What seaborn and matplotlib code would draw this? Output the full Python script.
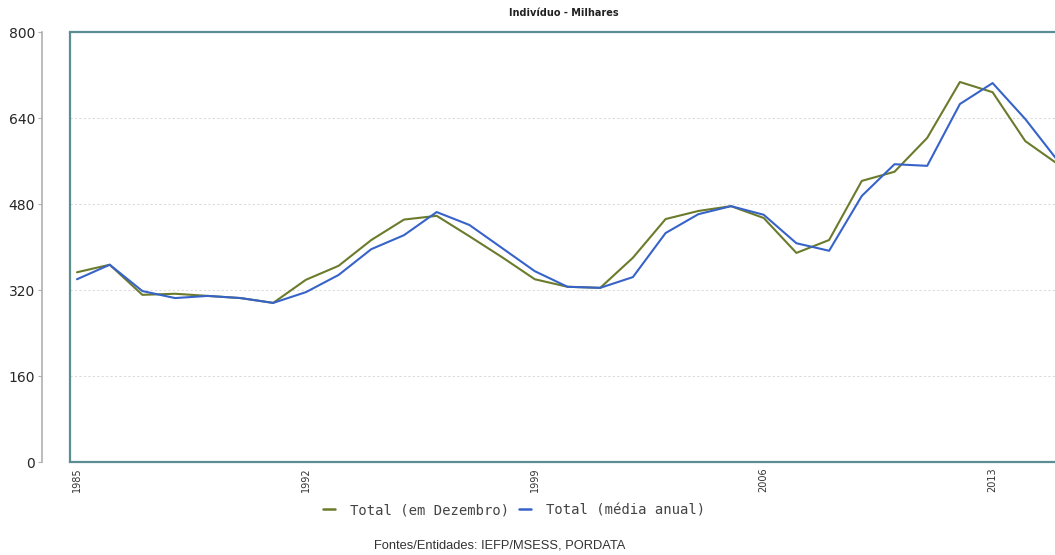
import matplotlib
matplotlib.use("Agg")
import matplotlib.pyplot as plt
import seaborn as sns
import pandas as pd

years = list(range(1985, 2016))
total_dezembro = [353, 367, 311, 313, 309, 305, 296, 339, 365, 413,
                  451, 458, 420, 381, 340, 326, 324, 380, 452, 467,
                  476, 454, 389, 413, 523, 540, 603, 707, 688, 597, 554]
total_media_anual = [340, 367, 318, 305, 309, 305, 296, 316, 348, 396,
                     422, 465, 441, 398, 355, 326, 324, 344, 426, 461,
                     476, 460, 407, 393, 495, 554, 551, 666, 705, 638, 560]
series_names = ["Total (em Dezembro)", "Total (média anual)"]
x_ticks = [1985, 1992, 1999, 2006, 2013]
y_ticks = [0, 160, 320, 480, 640, 800]

df = pd.DataFrame({
    "Ano": years * 2,
    "Valor": total_dezembro + total_media_anual,
    "Série": [series_names[0]] * len(years) + [series_names[1]] * len(years),
})

sns.set_style("white")
plt.rcParams["font.family"] = ["DejaVu Sans"]

W, H = 1055, 555
DPI = 100
fig = plt.figure(figsize=(W / DPI, H / DPI), dpi=DPI)
fig.patch.set_facecolor("white")

# plot area: left edge 70px, bottom 462px, top 32px; runs past the right edge
left_px, right_px, top_px, bottom_px = 70, 1070, 32, 462
ax = fig.add_axes([left_px / W, (H - bottom_px) / H,
                   (right_px - left_px) / W, (bottom_px - top_px) / H])

palette = {series_names[0]: "#6b7b2c", series_names[1]: "#3763c9"}
sns.lineplot(data=df, x="Ano", y="Valor", hue="Série", palette=palette,
             linewidth=1.5, ax=ax, legend=False)

px_per_year = 32.7
x0 = 1985 - (77 - left_px) / px_per_year
x1 = 1985 + (right_px - 77) / px_per_year
ax.set_xlim(x0, x1)
ax.set_ylim(0, 800)

ax.set_xticks(x_ticks)
ax.set_xticklabels([str(t) for t in x_ticks], rotation=90, fontsize=7,
                   color="#333333")
ax.set_yticks(y_ticks)
ax.set_yticklabels([str(t) for t in y_ticks], fontsize=8, color="#333333")
ax.set_xlabel("")
ax.set_ylabel("")

# dotted horizontal guides
for v in y_ticks[1:-1]:
    ax.axhline(v, color="#dcdcdc", linestyle=(0, (2, 2)), linewidth=0.8,
               zorder=0)

frame_color = "#5b8d92"
for side in ("top", "bottom"):
    ax.spines[side].set_color(frame_color)
    ax.spines[side].set_linewidth(1.6)
ax.spines["right"].set_visible(False)

# value axis drawn detached, 28px to the left of the frame
ax.spines["left"].set_position(("outward", 28 * 72 / DPI))
ax.spines["left"].set_color("#b0b0b0")
ax.spines["left"].set_linewidth(1.2)
ax.plot([0, 0], [0, 1], transform=ax.transAxes, color=frame_color,
        linewidth=1.6, clip_on=False, zorder=5)

ax.tick_params(axis="y", which="major", length=3, width=0.8, color="#b0b0b0",
               left=True, pad=2)
ax.tick_params(axis="x", which="major", length=0, pad=4)

fig.text(564 / W, 1 - 13 / H, "Indivíduo - Milhares", ha="center",
         va="center", fontsize=7, fontweight="bold", color="#222222")

handles = [plt.Line2D([], [], color=palette[n], linewidth=1.8)
           for n in series_names]
fig.legend(handles, series_names, loc="center", ncol=2,
           bbox_to_anchor=(514 / W, 1 - 510 / H), frameon=False,
           prop={"family": "DejaVu Sans Mono", "size": 10},
           handlelength=0.85, handletextpad=1.1,
           columnspacing=0.7, labelcolor="#444444", borderpad=0)

fig.text(500 / W, 1 - 546 / H, "Fontes/Entidades: IEFP/MSESS, PORDATA",
         ha="center", va="center", fontsize=9.3, color="#333333",
         family=["Liberation Sans", "DejaVu Sans"])

fig.savefig("out.png", dpi=DPI, facecolor="white")
